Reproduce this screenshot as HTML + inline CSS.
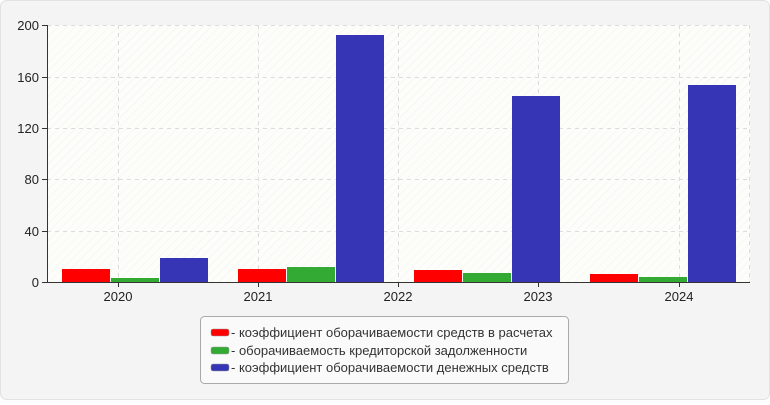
<!DOCTYPE html>
<html><head><meta charset="utf-8"><style>
body{margin:0;background:#fff;}
.wrap{position:relative;width:770px;height:400px;}
</style></head><body><div class="wrap">
<svg width="770" height="400" xmlns="http://www.w3.org/2000/svg" font-family="Liberation Sans, sans-serif">
<defs><pattern id="h" width="6" height="6" patternUnits="userSpaceOnUse" patternTransform="rotate(45)"><rect width="6" height="6" fill="#fdfdf9"/><line x1="0" y1="0" x2="0" y2="6" stroke="#f0f0f0" stroke-width="1"/></pattern></defs>
<rect x="0.5" y="0.5" width="769" height="399" rx="6" fill="#f4f4f4" stroke="#e2e2e2"/>
<rect x="47" y="25" width="703" height="257" fill="url(#h)"/>
<g stroke="#dcdcdc" stroke-dasharray="4,4" stroke-width="1">
<line x1="47" y1="25.5" x2="750" y2="25.5"/>
<line x1="47" y1="77.5" x2="750" y2="77.5"/>
<line x1="47" y1="128.5" x2="750" y2="128.5"/>
<line x1="47" y1="179.5" x2="750" y2="179.5"/>
<line x1="47" y1="231.5" x2="750" y2="231.5"/>
<line x1="118.5" y1="25" x2="118.5" y2="282"/>
<line x1="258.5" y1="25" x2="258.5" y2="282"/>
<line x1="398.5" y1="25" x2="398.5" y2="282"/>
<line x1="538.5" y1="25" x2="538.5" y2="282"/>
<line x1="679.5" y1="25" x2="679.5" y2="282"/>
<line x1="749.5" y1="25" x2="749.5" y2="282"/>
</g>
<g fill="#ff0000">
<rect x="62" y="269" width="48" height="13"/>
<rect x="238" y="269" width="48" height="13"/>
<rect x="414" y="270" width="48" height="12"/>
<rect x="590" y="274" width="48" height="8"/>
</g>
<g fill="#33aa33">
<rect x="111" y="278" width="48" height="4"/>
<rect x="287" y="267" width="48" height="15"/>
<rect x="463" y="273" width="48" height="9"/>
<rect x="639" y="277" width="48" height="5"/>
</g>
<g fill="#3535b5">
<rect x="160" y="258" width="48" height="24"/>
<rect x="336" y="35" width="48" height="247"/>
<rect x="512" y="96" width="48" height="186"/>
<rect x="688" y="85" width="48" height="197"/>
</g>
<g stroke="#333" stroke-width="1">
<line x1="47.5" y1="25" x2="47.5" y2="283"/>
<line x1="47" y1="282.5" x2="750" y2="282.5"/>
<line x1="42" y1="25.5" x2="47" y2="25.5"/>
<line x1="42" y1="77.5" x2="47" y2="77.5"/>
<line x1="42" y1="128.5" x2="47" y2="128.5"/>
<line x1="42" y1="179.5" x2="47" y2="179.5"/>
<line x1="42" y1="231.5" x2="47" y2="231.5"/>
<line x1="42" y1="282.5" x2="47" y2="282.5"/>
<line x1="118.5" y1="282" x2="118.5" y2="287"/>
<line x1="258.5" y1="282" x2="258.5" y2="287"/>
<line x1="398.5" y1="282" x2="398.5" y2="287"/>
<line x1="538.5" y1="282" x2="538.5" y2="287"/>
<line x1="679.5" y1="282" x2="679.5" y2="287"/>
</g>
<g font-size="13" fill="#222" text-anchor="end">
<text x="39" y="30">200</text>
<text x="39" y="82">160</text>
<text x="39" y="133">120</text>
<text x="39" y="184">80</text>
<text x="39" y="236">40</text>
<text x="39" y="287">0</text>
</g>
<g font-size="13" fill="#222" text-anchor="middle">
<text x="118" y="301">2020</text>
<text x="258" y="301">2021</text>
<text x="398" y="301">2022</text>
<text x="538" y="301">2023</text>
<text x="679" y="301">2024</text>
</g>
<rect x="200.5" y="316.5" width="368" height="67" rx="4" fill="#fafafa" stroke="#aaa"/>
<rect x="211" y="329" width="18" height="7" rx="2" fill="#ff0000" stroke="#999" stroke-width="0.5"/>
<rect x="211" y="347" width="18" height="7" rx="2" fill="#33aa33" stroke="#999" stroke-width="0.5"/>
<rect x="211" y="364" width="18" height="7" rx="2" fill="#3535b5" stroke="#999" stroke-width="0.5"/>
<g font-size="13" fill="#333">
<text x="231" y="337">- коэффициент оборачиваемости средств в расчетах</text>
<text x="231" y="355">- оборачиваемость кредиторской задолженности</text>
<text x="231" y="372">- коэффициент оборачиваемости денежных средств</text>
</g>
</svg>
</div></body></html>
